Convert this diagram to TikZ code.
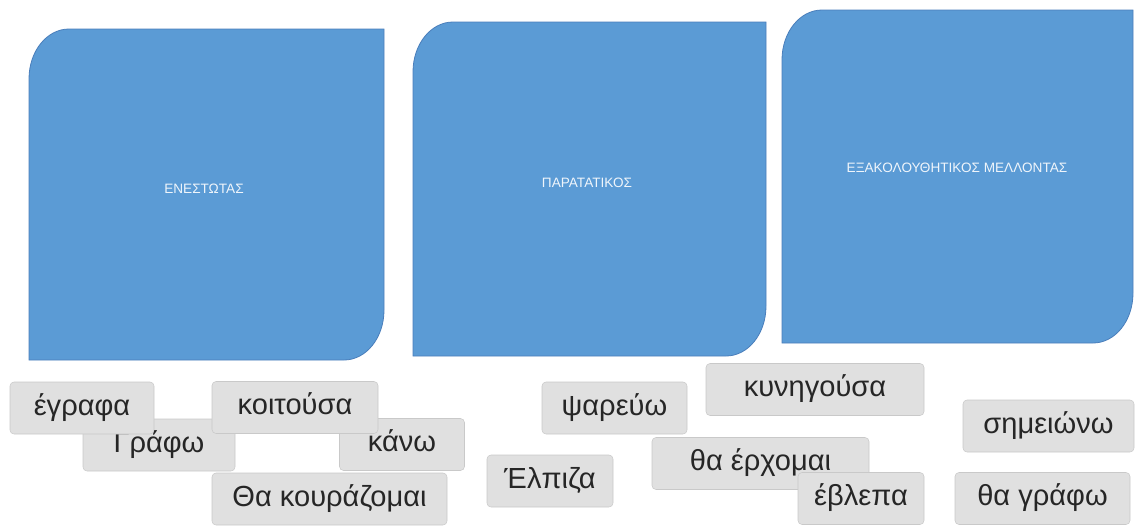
\documentclass[tikz,border=0pt]{standalone}
\usepackage{fontspec}
\setmainfont{Liberation Sans}
\usepackage{tikz}
\usepackage{xcolor}

\definecolor{tenseblue}{HTML}{5B9BD5}
\definecolor{tenseedge}{HTML}{4A7EBB}
\definecolor{tilegray}{HTML}{E0E0E0}
\definecolor{tileedge}{HTML}{C9C9C9}
\definecolor{wordgray}{HTML}{262626}

\begin{document}
\begin{tikzpicture}[
    x=0.75pt, y=-0.75pt,
    tense/.style={fill=tenseblue, draw=tenseedge, line width=0.6pt},
    tenselabel/.style={text=white!90!tenseblue, font=\fontsize{10.2}{12}\selectfont},
    tile/.style={draw=tileedge, fill=tilegray, rounded corners=3pt, text=wordgray,
                 font=\fontsize{21.8}{26}\selectfont, minimum height=39pt,
                 text height=15pt, text depth=4.5pt, inner sep=0pt}
  ]
    \useasboundingbox (0,0) rectangle (1136,526);

    % the three tense boxes
    \draw[tense] (29,79) .. controls (29,51) and (47,29) .. (69,29) -- (384,29)
      -- (384,310) .. controls (384,338) and (366,360) .. (344,360) -- (29,360) -- cycle;
    \draw[tense] (413,72) .. controls (413,44) and (431,22) .. (453,22) -- (766,22)
      -- (766,306) .. controls (766,334) and (748,356) .. (726,356) -- (413,356) -- cycle;
    \draw[tense] (782,60) .. controls (782,32) and (800,10) .. (822,10) -- (1133,10)
      -- (1133,293) .. controls (1133,321) and (1115,343) .. (1093,343) -- (782,343) -- cycle;

    \node[tenselabel] (enestotas)   at (204,189) {ΕΝΕΣΤΩΤΑΣ};
    \node[tenselabel] (paratatikos) at (587,183) {ΠΑΡΑΤΑΤΙΚΟΣ};
    \node[tenselabel] (mellontas)   at (957,168) {ΕΞΑΚΟΛΟΥΘΗΤΙΚΟΣ ΜΕΛΛΟΝΤΑΣ};

    % word tiles
    \node[tile, minimum width=114pt]    (grafo)      at (159,445)   {Γράφω};
    \node[tile, minimum width=108pt]    (egrafa)     at (82,408)    {έγραφα};
    \node[tile, minimum width=93.75pt]  (kano)       at (402,444.5) {κάνω};
    \node[tile, minimum width=124.5pt]  (koitousa)   at (295,407.5) {κοιτούσα};
    \node[tile, minimum width=176.25pt] (kourazomai) at (329.5,499) {Θα κουράζομαι};
    \node[tile, minimum width=108.75pt] (psarevo)    at (614.5,408) {ψαρεύω};
    \node[tile, minimum width=163.5pt]  (kynigousa)  at (815,389.5) {κυνηγούσα};
    \node[tile, minimum width=94.5pt]   (elpiza)     at (550,481)   {Έλπιζα};
    \node[tile, minimum width=162.75pt] (erchomai)   at (760.5,463.5) {θα έρχομαι};
    \node[tile, minimum width=94.5pt]   (evlepa)     at (861,498.5) {έβλεπα};
    \node[tile, minimum width=128.25pt] (simeiono)   at (1048.5,426) {σημειώνω};
    \node[tile, minimum width=131.25pt] (thagrafo)   at (1042.5,498.5) {θα γράφω};
  \end{tikzpicture}
\end{document}
